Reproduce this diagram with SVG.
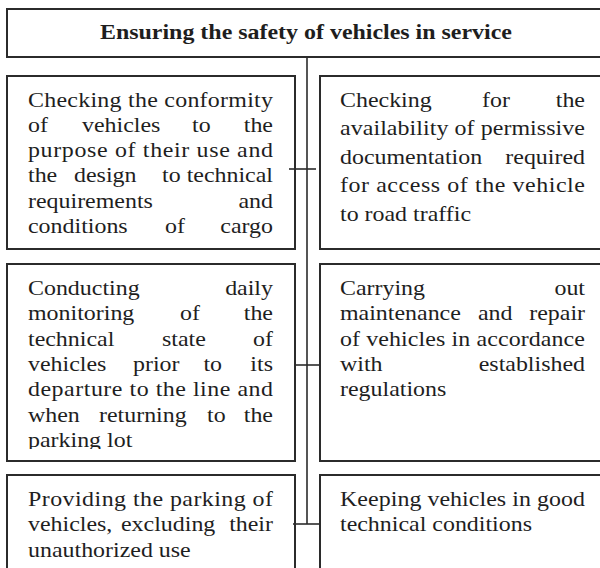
<svg xmlns="http://www.w3.org/2000/svg" width="600" height="568" viewBox="0 0 600 568">
<style>
.box{fill:none;stroke:#2b2b2b;stroke-width:2}
.ln{stroke:#2b2b2b;stroke-width:1.6;fill:none}
text{font-family:"Liberation Serif","Times New Roman",serif;font-size:21px;fill:#1e1e1e}
.b{font-weight:bold}
.e{text-anchor:end}
</style>
<defs>
<clipPath id="clipLot"><rect x="0" y="420" width="300" height="29"/></clipPath>
</defs>
<rect width="600" height="568" fill="#ffffff"/>
<g id="connectors">
<line class="ln" x1="307" y1="57" x2="307" y2="524"/>
<line class="ln" x1="289" y1="169" x2="316" y2="169"/>
<line class="ln" x1="295" y1="365" x2="320" y2="365"/>
<line class="ln" x1="293" y1="524" x2="320" y2="524"/>
</g>
<g id="title">
<rect class="box" x="7" y="9" width="620" height="48"/>
<g transform="scale(1.14 1)"><text class="b" x="268.4" y="39.5" text-anchor="middle" textLength="361.4" lengthAdjust="spacingAndGlyphs">Ensuring the safety of vehicles in service</text></g>
</g>
<g id="node-conformity">
<rect class="box" x="7" y="76" width="288" height="173"/>
<g transform="scale(1.14 1)">
<text x="24.56" y="107" textLength="214.9">Checking the conformity</text>
<text x="24.56" y="132">of</text><text x="71.93" y="132">vehicles</text><text x="168.42" y="132">to</text><text class="e" x="239.47" y="132">the</text>
<text x="24.56" y="157" textLength="214.9">purpose of their use and</text>
<text x="24.56" y="182">the</text><text x="64.91" y="182">design</text><text x="142.11" y="182">to</text><text class="e" x="239.47" y="182">technical</text>
<text x="24.56" y="208">requirements</text><text class="e" x="239.47" y="208">and</text>
<text x="24.56" y="233">conditions</text><text x="144.74" y="233">of</text><text class="e" x="239.47" y="233">cargo</text>
</g>
</g>
<g id="node-documentation">
<rect class="box" x="320" y="76" width="300" height="173"/>
<g transform="scale(1.14 1)">
<text x="298.25" y="107">Checking</text><text x="422.8" y="107">for</text><text class="e" x="513.16" y="107">the</text>
<text x="298.25" y="135.5" textLength="214.9">availability of permissive</text>
<text x="298.25" y="164">documentation</text><text class="e" x="513.16" y="164">required</text>
<text x="298.25" y="192.5" textLength="214.9">for access of the vehicle</text>
<text x="298.25" y="221">to road traffic</text>
</g>
</g>
<g id="node-monitoring">
<rect class="box" x="7" y="264" width="288" height="197"/>
<g transform="scale(1.14 1)">
<text x="24.56" y="295">Conducting</text><text class="e" x="239.47" y="295">daily</text>
<text x="24.56" y="320.3">monitoring</text><text x="157.89" y="320.3">of</text><text class="e" x="239.47" y="320.3">the</text>
<text x="24.56" y="345.7">technical</text><text x="142.11" y="345.7">state</text><text class="e" x="239.47" y="345.7">of</text>
<text x="24.56" y="371">vehicles</text><text x="116.67" y="371">prior</text><text x="178.5" y="371">to</text><text class="e" x="239.47" y="371">its</text>
<text x="24.56" y="396.3" textLength="214.9">departure to the line and</text>
<text x="24.56" y="421.7">when</text><text x="86.84" y="421.7">returning</text><text x="181.58" y="421.7">to</text><text class="e" x="239.47" y="421.7">the</text>
</g>
<g clip-path="url(#clipLot)"><g transform="scale(1.14 1)"><text x="24.56" y="447">parking lot</text></g></g>
</g>
<g id="node-maintenance">
<rect class="box" x="320" y="264" width="300" height="197"/>
<g transform="scale(1.14 1)">
<text x="298.25" y="295">Carrying</text><text class="e" x="513.16" y="295">out</text>
<text x="298.25" y="320.3">maintenance</text><text x="419.3" y="320.3">and</text><text class="e" x="513.16" y="320.3">repair</text>
<text x="298.25" y="345.7" textLength="214.9">of vehicles in accordance</text>
<text x="298.25" y="371">with</text><text class="e" x="513.16" y="371">established</text>
<text x="298.25" y="396.3">regulations</text>
</g>
</g>
<g id="node-parking">
<rect class="box" x="7" y="475" width="288" height="120"/>
<g transform="scale(1.14 1)">
<text x="24.56" y="506" textLength="214.9">Providing the parking of</text>
<text x="24.56" y="531.5">vehicles,</text><text x="106.14" y="531.5">excluding</text><text class="e" x="239.47" y="531.5">their</text>
<text x="24.56" y="557">unauthorized use</text>
</g>
</g>
<g id="node-keeping">
<rect class="box" x="320" y="475" width="300" height="120"/>
<g transform="scale(1.14 1)">
<text x="298.25" y="506" textLength="214.9">Keeping vehicles in good</text>
<text x="298.25" y="531.5">technical conditions</text>
</g>
</g>
</svg>
